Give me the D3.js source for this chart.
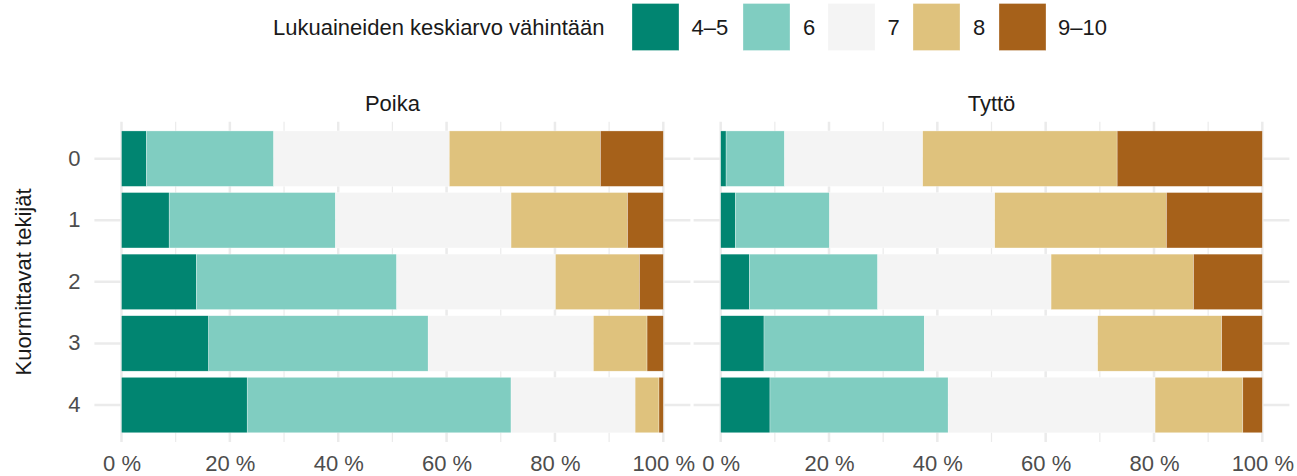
<!DOCTYPE html>
<html>
<head>
<meta charset="utf-8">
<script src="https://cdn.jsdelivr.net/npm/d3@7"></script>
<style>
  html, body { margin: 0; padding: 0; background: #fff; }
  svg { display: block; font-family: "Liberation Sans", Arial, Helvetica, sans-serif; }
</style>
</head>
<body>
<svg id="chart" width="1297" height="476"></svg>
<script>
// ---- data (shares, %) ----
const categories = ["0", "1", "2", "3", "4"];
const panels = ["Poika", "Tyttö"];
const levels = ["4–5", "6", "7", "8", "9–10"];
const colors = ["#018571", "#80cdc1", "#f4f4f4", "#dfc27d", "#a6611a"];
const xTicks = [0, 0.2, 0.4, 0.6, 0.8, 1.0];
const legendTitle = "Lukuaineiden keskiarvo vähintään";
const yTitle = "Kuormittavat tekijät";

// Poika, by level, rows 0..4
const poika_4_5  = [4.6, 8.8, 13.8, 16.1, 23.2];
const poika_6    = [23.5, 30.7, 37.0, 40.5, 48.7];
const poika_7    = [32.4, 32.4, 29.3, 30.5, 22.9];
const poika_8    = [27.9, 21.5, 15.5, 9.9, 4.4];
const poika_9_10 = [11.6, 6.6, 4.4, 3.0, 0.8];
// Tyttö, by level, rows 0..4
const tytto_4_5  = [1.0, 2.7, 5.3, 8.0, 9.1];
const tytto_6    = [10.8, 17.4, 23.7, 29.6, 32.9];
const tytto_7    = [25.5, 30.5, 32.0, 32.0, 38.2];
const tytto_8    = [35.9, 31.7, 26.3, 22.9, 16.2];
const tytto_9_10 = [26.8, 17.7, 12.7, 7.5, 3.6];

const seriesByPanel = {
  "Poika": [poika_4_5, poika_6, poika_7, poika_8, poika_9_10],
  "Tyttö": [tytto_4_5, tytto_6, tytto_7, tytto_8, tytto_9_10]
};

// ---- layout ----
const svg = d3.select("#chart");
const panelBox = {
  "Poika": [94.4, 690.4],
  "Tyttö": [693.6, 1289.4]
};
const panelTop = 121.7, panelBottom = 442;
const textDark = "#1a1a1a", textGray = "#4d4d4d", gridCol = "#ebebeb";
const fs = 22;

const y = d3.scaleBand().domain(categories).range([panelTop, panelBottom])
  .paddingInner(0.1).paddingOuter(0.15);

const color = d3.scaleOrdinal().domain(levels).range(colors);

panels.forEach(p => {
  const [x0, x1] = panelBox[p];
  const x = d3.scaleLinear().domain([-0.05, 1.05]).range([x0, x1]);
  const g = svg.append("g");

  // minor vertical grid
  const minor = [0.1, 0.3, 0.5, 0.7, 0.9];
  g.selectAll(".minor").data(minor).join("line")
    .attr("x1", d => x(d)).attr("x2", d => x(d))
    .attr("y1", panelTop).attr("y2", panelBottom)
    .attr("stroke", gridCol).attr("stroke-width", 1.2);
  // major vertical grid
  g.selectAll(".major").data(xTicks).join("line")
    .attr("x1", d => x(d)).attr("x2", d => x(d))
    .attr("y1", panelTop).attr("y2", panelBottom)
    .attr("stroke", gridCol).attr("stroke-width", 2.5);
  // horizontal grid
  g.selectAll(".hgrid").data(categories).join("line")
    .attr("x1", x0).attr("x2", x1)
    .attr("y1", d => y(d) + y.bandwidth() / 2).attr("y2", d => y(d) + y.bandwidth() / 2)
    .attr("stroke", gridCol).attr("stroke-width", 2.5);

  // stacked data
  const rows = categories.map((c, i) => {
    const o = { cat: c };
    levels.forEach((l, j) => { o[l] = seriesByPanel[p][j][i]; });
    return o;
  });
  const stack = d3.stack().keys(levels)
    .value((d, key) => d[key] / d3.sum(levels, l => d[l]));
  const stacked = stack(rows);

  g.selectAll(".layer").data(stacked).join("g")
    .attr("fill", d => color(d.key))
    .selectAll("rect").data(d => d).join("rect")
    .attr("x", d => x(d[0]))
    .attr("width", d => x(d[1]) - x(d[0]))
    .attr("y", d => y(d.data.cat))
    .attr("height", y.bandwidth())
    .attr("stroke", "#ffffff").attr("stroke-width", 0.5).attr("stroke-opacity", 0.6);

  // x axis labels
  const ax = d3.axisBottom(x).tickValues(xTicks).tickSize(0)
    .tickFormat(d => Math.round(d * 100) + " %");
  const axG = g.append("g").attr("transform", `translate(0, ${panelBottom})`).call(ax);
  axG.select(".domain").remove();
  axG.selectAll("text").attr("fill", textGray).attr("font-size", fs)
    .attr("font-family", "Liberation Sans, Arial, sans-serif")
    .attr("dy", null).attr("y", 29);

  // strip label
  g.append("text").attr("x", (x0 + x1) / 2).attr("y", 111)
    .attr("text-anchor", "middle").attr("font-size", fs).attr("fill", textDark).text(p);
});

// y axis labels (left panel only)
const yAx = d3.axisLeft(y).tickSize(0);
const yG = svg.append("g").attr("transform", `translate(${panelBox["Poika"][0]}, 0)`).call(yAx);
yG.select(".domain").remove();
yG.selectAll("text").attr("fill", textGray).attr("font-size", fs)
  .attr("font-family", "Liberation Sans, Arial, sans-serif")
  .attr("x", -14);

// y title
svg.append("text").attr("transform", "translate(31, 282) rotate(-90)")
  .attr("text-anchor", "middle").attr("font-size", fs).attr("fill", textDark).text(yTitle);

// legend
svg.append("text").attr("x", 273).attr("y", 35).attr("font-size", fs)
  .attr("fill", textDark).text(legendTitle);
const keyX = [632, 743, 828, 913, 999];
const labX = [691.5, 803, 887.5, 973, 1058];
const lg = svg.append("g");
lg.selectAll("rect").data(levels).join("rect")
  .attr("x", (d, i) => keyX[i]).attr("y", 3.5)
  .attr("width", 47).attr("height", 47)
  .attr("fill", d => color(d))
  .attr("stroke", "#ffffff").attr("stroke-width", 0.5).attr("stroke-opacity", 0.6);
lg.selectAll("text").data(levels).join("text")
  .attr("x", (d, i) => labX[i]).attr("y", 35)
  .attr("font-size", fs).attr("fill", textDark).text(d => d);
</script>
</body>
</html>
